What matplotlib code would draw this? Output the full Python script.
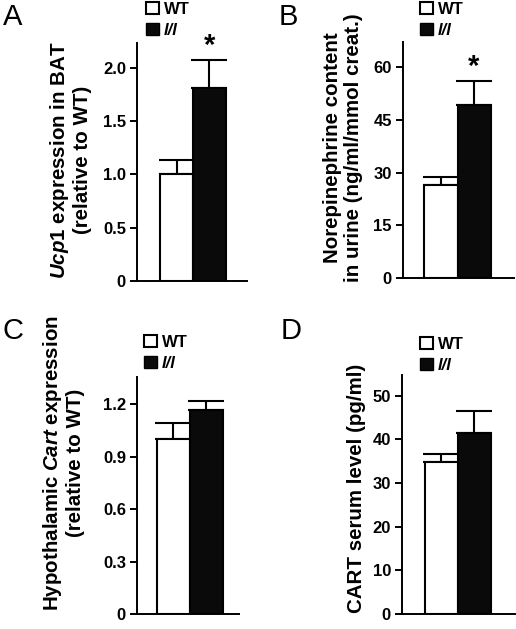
import matplotlib
matplotlib.use("Agg")
import matplotlib.pyplot as plt
from matplotlib.patches import Patch

plt.rcParams['font.family'] = ['Liberation Sans', 'DejaVu Sans']
plt.rcParams['font.weight'] = 'bold'
plt.rcParams['mathtext.fontset'] = 'custom'
plt.rcParams['mathtext.it'] = 'Liberation Sans:italic:bold'
plt.rcParams['mathtext.rm'] = 'Liberation Sans:bold'
plt.rcParams['mathtext.bf'] = 'Liberation Sans:bold'

groups = ['WT', 'l/l']
colors = ['white', '#0a0a0a']

# Panel A
a_vals = [1.0, 1.81]
a_err = [0.13, 0.26]
a_ticks = [0, 0.5, 1.0, 1.5, 2.0]
a_ticklabels = ['0', '0.5', '1.0', '1.5', '2.0']
# Panel B
b_vals = [26.6, 49.2]
b_err = [2.2, 7.0]
b_ticks = [0, 15, 30, 45, 60]
b_ticklabels = ['0', '15', '30', '45', '60']
# Panel C
c_vals = [1.0, 1.165]
c_err = [0.09, 0.055]
c_ticks = [0, 0.3, 0.6, 0.9, 1.2]
c_ticklabels = ['0', '0.3', '0.6', '0.9', '1.2']
# Panel D
d_vals = [34.8, 41.4]
d_err = [1.8, 5.1]
d_ticks = [0, 10, 20, 30, 40, 50]
d_ticklabels = ['0', '10', '20', '30', '40', '50']

W, H = 516, 629
fig = plt.figure(figsize=(W / 100, H / 100), dpi=100)


def axes_px(l, t, r, b):
    return fig.add_axes([l / W, 1 - b / H, (r - l) / W, (b - t) / H])


def panel(box, vals, err, ticks, ticklabels, ylim, xlim, star, legpos, letter, letterpos,
          label, labelpos):
    ax = axes_px(*box)
    x = [0, 1]
    ax.bar(x, vals, width=1.0, color=colors, edgecolor='black', linewidth=1.5, zorder=2)
    ax.errorbar(x, vals, yerr=[[0, 0], err], fmt='none', ecolor='black', elinewidth=1.5,
                capsize=13, capthick=1.5, zorder=1)
    ax.set_ylim(*ylim)
    ax.set_xlim(*xlim)
    ax.set_yticks(ticks)
    ax.set_yticklabels(ticklabels, fontsize=12, fontweight='bold')
    ax.set_xticks([])
    for s in ['top', 'right']:
        ax.spines[s].set_visible(False)
    for s in ['left', 'bottom']:
        ax.spines[s].set_linewidth(1.4)
    ax.tick_params(axis='y', direction='out', length=5, width=1.4, pad=3)
    if star:
        ax.text(1, vals[1] + err[1], '*', ha='center', va='bottom', fontsize=21,
                fontweight='bold')
    handles = [Patch(facecolor='white', edgecolor='black', linewidth=1.5),
               Patch(facecolor='#0a0a0a', edgecolor='black', linewidth=1.0)]
    leg = ax.legend(handles, groups, loc='upper left',
                    bbox_to_anchor=(legpos[0] / W, 1 - legpos[1] / H),
                    bbox_transform=fig.transFigure, frameon=False, handlelength=0.75,
                    handleheight=0.75, handletextpad=0.3, labelspacing=0.35, borderpad=0,
                    borderaxespad=0, prop=dict(weight='bold', size=12))
    leg.get_texts()[1].set_style('italic')
    fig.text(letterpos[0] / W, 1 - letterpos[1] / H, letter, fontsize=21,
             fontweight='normal', ha='left', va='top')
    fig.text(labelpos[0] / W, 1 - labelpos[1] / H, label, rotation=90, ha='center',
             va='center', multialignment='center', fontsize=14.8, fontweight='bold',
             linespacing=1.15)
    return ax


panel((137, 43, 247, 281), a_vals, a_err, a_ticks, a_ticklabels, (0, 2.23), (-1.2, 2.14),
      True, (146, 2), 'A', (3, 3),
      '$\\mathit{Ucp1}$ expression in BAT\n(relative to WT)', (70, 160))
panel((403, 42, 514, 278), b_vals, b_err, b_ticks, b_ticklabels, (0, 67.2), (-1.15, 2.21),
      True, (420, 2), 'B', (279, 3),
      'Norepinephrine content\nin urine (ng/ml/mmol creat.)', (343, 148))
panel((137, 377, 239, 614), c_vals, c_err, c_ticks, c_ticklabels, (0, 1.356), (-1.1, 2.0),
      False, (144, 335), 'C', (3, 317),
      'Hypothalamic $\\mathit{Cart}$ expression\n(relative to WT)', (63, 463))
panel((402, 375, 515, 614), d_vals, d_err, d_ticks, d_ticklabels, (0, 54.7), (-1.18, 2.23),
      False, (420, 337), 'D', (281, 317),
      'CART serum level (pg/ml)', (357, 488))

fig.savefig('out.png', dpi=100)
